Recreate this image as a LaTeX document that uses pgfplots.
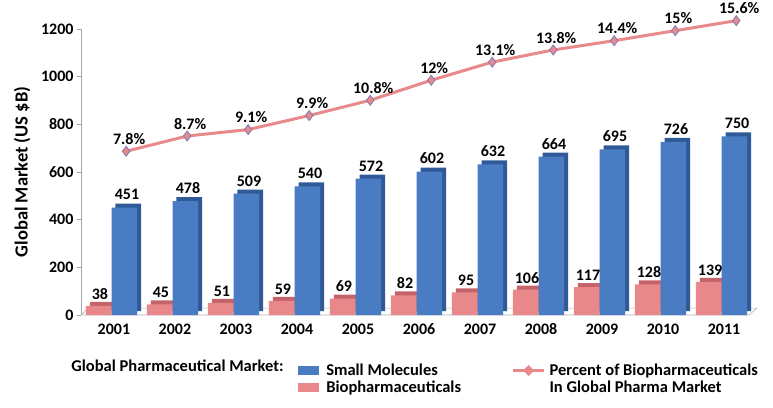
\documentclass[border=0pt]{standalone}
\usepackage{pgfplots}
\pgfplotsset{compat=1.18}
\usepackage{pgfplotstable}
\usepackage{fontspec}
\setmainfont{Carlito}
\definecolor{blueF}{HTML}{4A7CC4}
\definecolor{blueS}{HTML}{2F5A97}
\definecolor{pinkF}{HTML}{E8888A}
\definecolor{pinkS}{HTML}{C4646A}
\definecolor{lineC}{HTML}{E8898B}
\definecolor{markE}{HTML}{7B7BB5}
\pgfplotstableread{
x sm bio pct pctlab
0 451 38 687 7.8
1 478 45 751 8.7
2 509 51 778 9.1
3 540 59 837 9.9
4 572 69 901 10.8
5 602 82 985 12
6 632 95 1061 13.1
7 664 106 1112 13.8
8 695 117 1151 14.4
9 726 128 1193 15
10 750 139 1235 15.6
}\data
\begin{document}
\begin{tikzpicture}
\path[use as bounding box] (-81pt,-92pt) rectangle (692pt,315pt);
\begin{axis}[
  at={(0pt,0pt)}, anchor=south west,
  scale only axis, width=676pt, height=286pt,
  xmin=-0.54, xmax=10.54, ymin=0, ymax=1200,
  clip=false,
  axis lines*=left,
  axis line style={-, draw=gray!70, line width=0.8pt},
  x axis line style={draw=none},
  xtick={0,...,10},
  xticklabels={2001,2002,2003,2004,2005,2006,2007,2008,2009,2010,2011},
  xtick style={draw=none},
  ytick={0,200,...,1200},
  ytick style={draw=gray!70, line width=0.8pt},
  tick align=outside, major tick length=4pt,
  /pgf/number format/assume math mode=true,
  /pgf/number format/1000 sep={},
  tick label style={font=\fontsize{16}{18}\selectfont\bfseries},
  xticklabel style={yshift=-1pt},
  ylabel={Global Market (US \$B)},
  ylabel style={at={(axis description cs:-0.087,0.5)}, anchor=center, font=\fontsize{18.5}{20}\selectfont\bfseries},
  legend columns=2,
  legend cell align=left,
  legend style={at={(0.316,-0.155)}, anchor=north west, draw=none, fill=none,
    font=\fontsize{16.5}{18}\selectfont\bfseries, row sep=-1pt,
    /tikz/every even column/.append style={column sep=48pt},
    nodes={inner sep=2.5pt}},
]
% floor
\draw[gray!60, fill=white, line width=0.6pt] (axis cs:-0.54,0) -- (axis cs:10.41,0) -- (axis cs:10.54,29) -- (axis cs:-0.42,29) -- cycle;

\addlegendimage{draw=none, legend image code/.code={\fill[blueF] (0pt,-4.5pt) rectangle (21pt,4.5pt); \path (26pt,0pt);}}
\addlegendentry{Small Molecules}
\addlegendimage{draw=none, legend image code/.code={\draw[lineC, line width=3pt] (0pt,0pt) -- (31pt,0pt); \fill[lineC] (15.5pt,5.5pt) -- (21pt,0pt) -- (15.5pt,-5.5pt) -- (10pt,0pt) -- cycle; \path (34pt,0pt);}}
\addlegendentry{Percent of Biopharmaceuticals}
\addlegendimage{draw=none, legend image code/.code={\fill[pinkF] (0pt,-4.5pt) rectangle (21pt,4.5pt); \path (26pt,0pt);}}
\addlegendentry{Biopharmaceuticals}
\addlegendimage{draw=none, legend image code/.code={\path (0pt,0pt) -- (34pt,0pt);}}
\addlegendentry{In Global Pharma Market}

% pink bars with depth
\addplot[ybar, bar width=0.42, bar shift=-0.185, fill=pinkS, draw=none, yshift=4pt, forget plot] table[x=x, y=bio] {\data};
\addplot[ybar, bar width=0.42, bar shift=-0.25, fill=pinkF, draw=none, forget plot,
  point meta=explicit symbolic,
  nodes near coords={\pgfplotspointmeta},
  every node near coord/.append style={font=\fontsize{16}{18}\selectfont\bfseries, yshift=3pt, xshift=-14pt}]
  table[x=x, y=bio, meta=bio] {\data};
% blue bars with depth
\addplot[ybar, bar width=0.42, bar shift=0.235, fill=blueS, draw=none, yshift=4pt, forget plot] table[x=x, y=sm] {\data};
\addplot[ybar, bar width=0.42, bar shift=0.17, fill=blueF, draw=none, forget plot,
  point meta=explicit symbolic,
  nodes near coords={\pgfplotspointmeta},
  every node near coord/.append style={font=\fontsize{16}{18}\selectfont\bfseries, yshift=4pt, xshift=13pt}]
  table[x=x, y=sm, meta=sm] {\data};
% percent line
\addplot[lineC, line width=3pt, mark=diamond*, mark size=5pt,
  mark options={fill=lineC, draw=markE, line width=0.8pt}, forget plot,
  point meta=explicit symbolic,
  nodes near coords={\pgfplotspointmeta\%},
  every node near coord/.append style={font=\fontsize{16}{18}\selectfont\bfseries, yshift=3pt, xshift=3pt, text=black}]
  table[x expr=\thisrow{x}+0.2, y=pct, meta=pctlab] {\data};

\node[anchor=east, font=\fontsize{16.5}{18}\selectfont\bfseries] at (axis description cs:0.305,-0.179) {Global Pharmaceutical Market:};
\end{axis}
\end{tikzpicture}
\end{document}
